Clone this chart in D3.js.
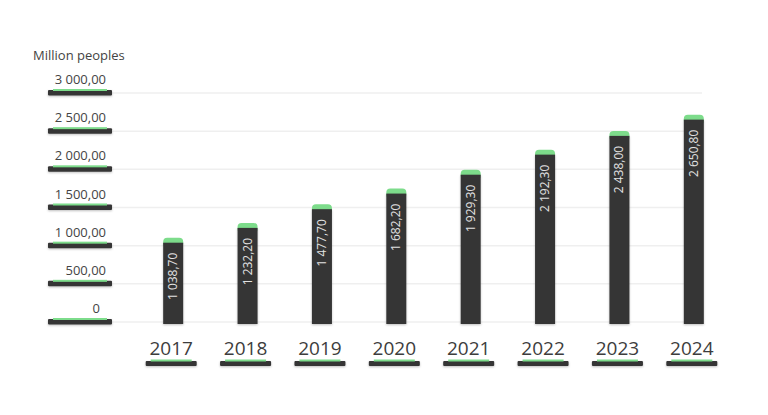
<!DOCTYPE html>
<html>
<head>
<meta charset="utf-8">
<script src="https://cdn.jsdelivr.net/npm/d3@7"></script>
<style>
  html, body { margin: 0; padding: 0; background: #fff; }
  svg { display: block; font-family: "Open Sans", "Noto Sans", sans-serif; }
</style>
</head>
<body>
<svg id="chart" width="768" height="415"></svg>
<script>
const years = ["2017", "2018", "2019", "2020", "2021", "2022", "2023", "2024"];
const values = [1038.70, 1232.20, 1477.70, 1682.20, 1929.30, 2192.30, 2438.00, 2650.80];
const yTicks = [0, 500, 1000, 1500, 2000, 2500, 3000];
const yTitle = "Million peoples";

const svg = d3.select("#chart");
const dark = "#353535";
const green = "#7ddc8b";

const defs = svg.append("defs");
const f = defs.append("filter").attr("id", "sh").attr("x", "-20%").attr("y", "-50%").attr("width", "140%").attr("height", "250%");
f.append("feDropShadow").attr("dx", 0).attr("dy", 1).attr("stdDeviation", 1).attr("flood-color", "#000").attr("flood-opacity", 0.25);

const locale = d3.formatLocale({ decimal: ",", thousands: " ", grouping: [3], currency: ["", ""] });
const fmt = locale.format(",.2f");
const tickFmt = v => v === 0 ? "0" : fmt(v);

const y = d3.scaleLinear().domain([0, 3000]).range([322, 93]);
const x = d3.scaleBand().domain(years).range([136, 731]).paddingInner(0).paddingOuter(0);
const barW = 20;
const cx = d => x(d) + x.bandwidth() / 2;

// gridlines
svg.append("g").selectAll("line").data(yTicks).join("line")
  .attr("x1", 112).attr("x2", 702)
  .attr("y1", d => y(d)).attr("y2", d => y(d))
  .attr("stroke", "#efefef").attr("stroke-width", 1.5);

// y axis title
svg.append("text").attr("x", 33).attr("y", 60)
  .attr("font-size", 13).attr("fill", "#444").text(yTitle);

// y tick labels + underlines
const yt = svg.append("g").selectAll("g").data(yTicks).join("g")
  .attr("transform", d => `translate(0,${y(d)})`);
yt.append("rect").attr("x", 48).attr("y", -3).attr("width", 64).attr("height", 5.5)
  .attr("rx", 1).attr("fill", dark).attr("filter", "url(#sh)");
yt.append("rect").attr("x", 53).attr("y", -4).attr("width", 54).attr("height", 2)
  .attr("fill", green);
yt.append("text").attr("x", d => d === 0 ? 100 : 106).attr("y", -9)
  .attr("text-anchor", "end").attr("font-size", 13).attr("fill", "#444")
  .text(d => tickFmt(d));

// bars
const bars = svg.append("g").selectAll("g").data(years).join("g");
bars.append("rect")
  .attr("x", d => cx(d) - barW / 2).attr("width", barW)
  .attr("y", (d, i) => y(values[i]) - 5).attr("height", 10)
  .attr("rx", 4).attr("fill", green);
bars.append("rect")
  .attr("x", d => cx(d) - barW / 2).attr("width", barW)
  .attr("y", (d, i) => y(values[i]))
  .attr("height", (d, i) => 324 - y(values[i]))
  .attr("fill", dark).attr("filter", "url(#sh)");
bars.append("text")
  .attr("transform", (d, i) => `translate(${cx(d) + 4},${y(values[i]) + 10}) rotate(-90)`)
  .attr("text-anchor", "end").attr("font-size", 12).attr("fill", "#e2e2e2")
  .text((d, i) => fmt(values[i]));

// x labels + underlines
const xl = svg.append("g").selectAll("g").data(years).join("g")
  .attr("transform", d => `translate(${cx(d) - 2},0)`);
xl.append("text").attr("x", 0).attr("y", 355).attr("text-anchor", "middle")
  .attr("font-size", 19).attr("fill", "#3d3d3d").text(d => d);
xl.append("rect").attr("x", -25.5).attr("y", 361).attr("width", 51).attr("height", 5)
  .attr("rx", 1).attr("fill", dark).attr("filter", "url(#sh)");
xl.append("rect").attr("x", -20.5).attr("y", 359.5).attr("width", 41).attr("height", 2)
  .attr("fill", green);
</script>
</body>
</html>
